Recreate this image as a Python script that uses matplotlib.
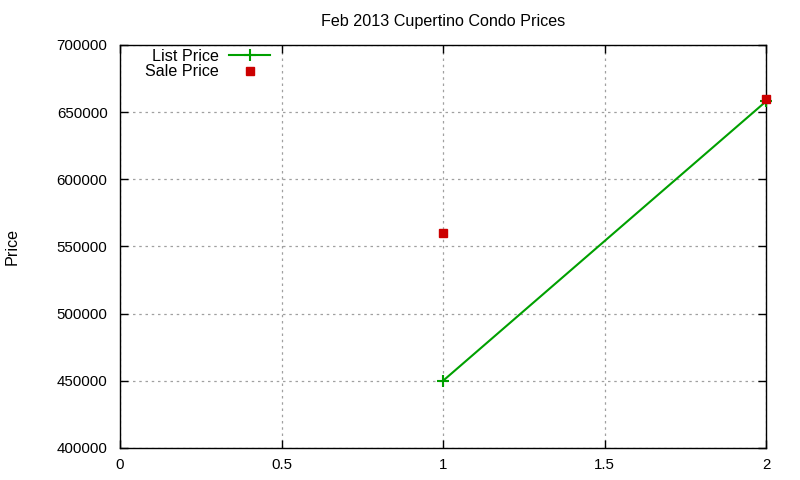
import matplotlib
matplotlib.use("Agg")
import matplotlib.pyplot as plt
from matplotlib.ticker import FuncFormatter, MultipleLocator

plt.rcParams['font.family'] = ['Liberation Sans', 'DejaVu Sans']

list_x = [1, 2]
list_price = [450000, 658000]
sale_x = [1, 2]
sale_price = [560000, 660000]
title = "Feb 2013 Cupertino Condo Prices"

fig = plt.figure(figsize=(8, 4.8), dpi=100)
ax = fig.add_axes([0.15, 0.0667, 0.8075, 0.8396])

ax.plot(list_x, list_price, color='#00a000', lw=1.5, marker='+', ms=8, mew=1.5,
        label='List Price', clip_on=False, zorder=3)
ax.plot(sale_x, sale_price, ls='none', color='#cc0000', marker='s', ms=6,
        label='Sale Price', clip_on=False, zorder=4)

ax.set_xlim(0, 2)
ax.set_ylim(400000, 700000)
ax.xaxis.set_major_locator(MultipleLocator(0.5))
ax.yaxis.set_major_locator(MultipleLocator(50000))
ax.xaxis.set_major_formatter(FuncFormatter(lambda v, p: '%g' % v))
ax.yaxis.set_major_formatter(FuncFormatter(lambda v, p: '%d' % v))
ax.tick_params(direction='in', length=6, width=1, top=True, right=True,
               labelsize=10.8, colors='black')
ax.tick_params(axis='y', pad=9)
ax.tick_params(axis='x', pad=7)
ax.grid(True, color='#a0a0a0', ls=(0, (2, 3)), lw=0.9)
for s in ax.spines.values():
    s.set_linewidth(1)

ax.set_title(title, fontsize=11.6, pad=14)
ax.set_ylabel('Price', fontsize=11.6)
ax.yaxis.set_label_coords(-0.156, 0.5)

leg = ax.legend(loc='upper left', bbox_to_anchor=(0.019, 1.023), frameon=False,
                markerfirst=False, fontsize=11.6, handlelength=2.6,
                handletextpad=0.6, labelspacing=0.05, borderaxespad=0.4)
for t in leg.get_texts():
    t.set_ha('right')

fig.savefig('out.png', dpi=100)
